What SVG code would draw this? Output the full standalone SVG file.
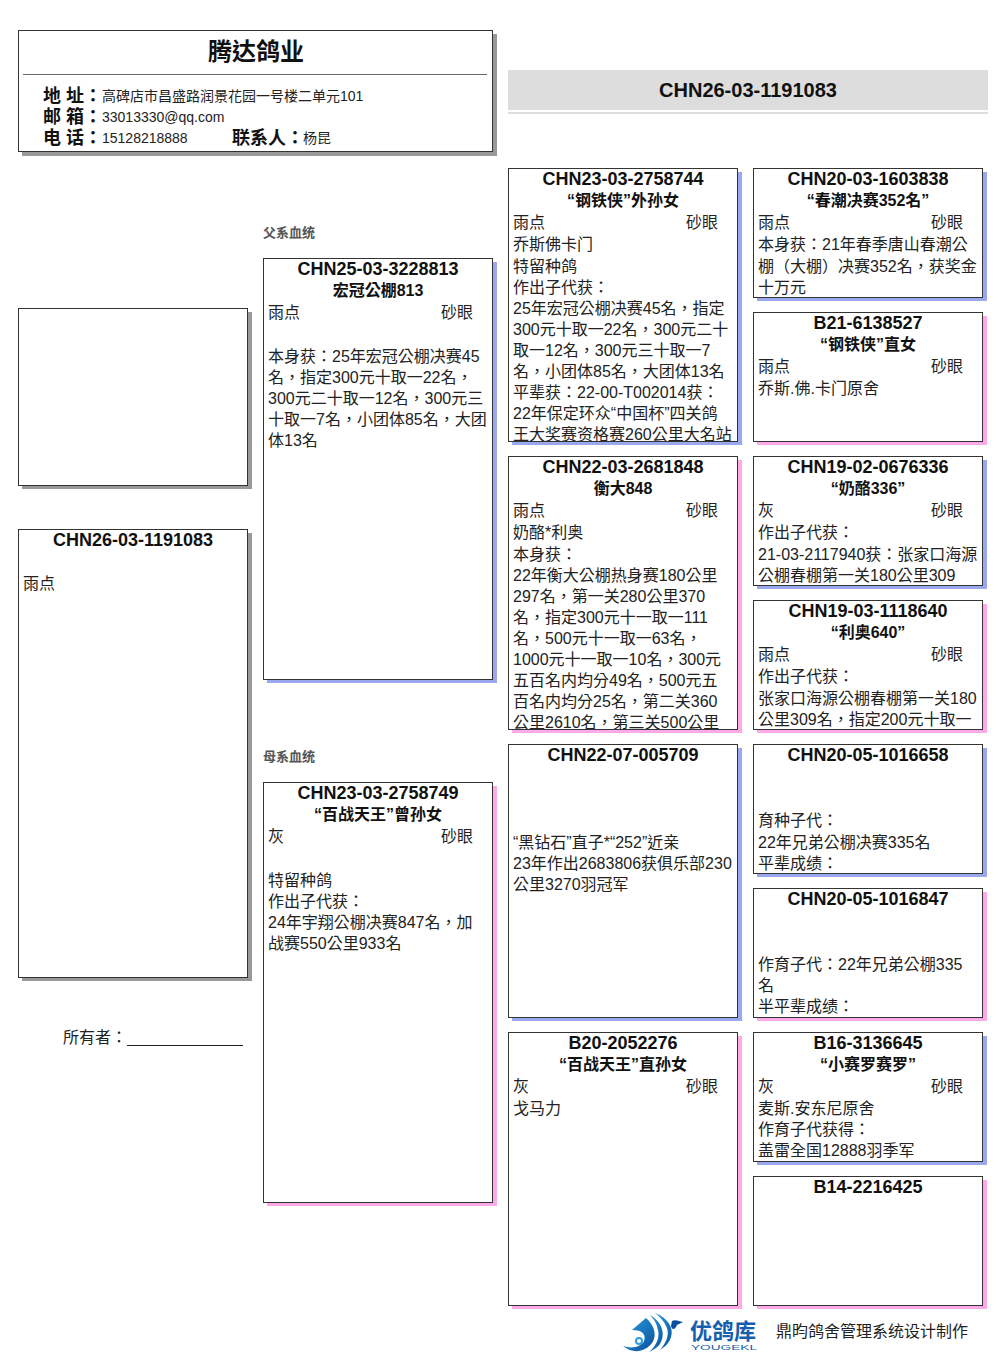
<svg xmlns="http://www.w3.org/2000/svg" width="1006" height="1366" viewBox="0 0 1006 1366">
<style>
text{font-family:"Liberation Sans","Noto Sans CJK TC",sans-serif;fill:#222;font-size:16px}
.box{fill:#fff;stroke:#333;stroke-width:1}
.sg{fill:#999}.sb{fill:#9aa9ee}.sp{fill:#ffaae8}
.t{font-size:18px;font-weight:bold;text-anchor:middle;fill:#111}
.h{font-size:18px;font-weight:bold;fill:#111}
.s{font-size:14px}
.c{font-size:13px;font-weight:bold;fill:#555}
</style>
<defs>
<clipPath id="c1"><rect x="508" y="168" width="230" height="273"/></clipPath>
<clipPath id="c2"><rect x="508" y="456" width="230" height="273"/></clipPath>
<linearGradient id="lg" x1="0" y1="0" x2="1" y2="1"><stop offset="0" stop-color="#2aa0e0"/><stop offset="1" stop-color="#0b4f9e"/></linearGradient>
</defs>
<g id="header">
<rect class="sg" x="22" y="34" width="475" height="122"/>
<rect class="box" x="18.500" y="30.500" width="474" height="121"/>
<line x1="23" y1="74.500" x2="487" y2="74.500" stroke="#666"/>
<text x="256" y="60" style="font-size:24px;font-weight:bold;text-anchor:middle;fill:#111">腾达鸽业</text>
<text class="h" x="43" y="102">地 址：</text><text class="s" x="102" y="101">高碑店市昌盛路润景花园一号楼二单元101</text>
<text class="h" x="43" y="123">邮 箱：</text><text class="s" x="102" y="122">33013330@qq.com</text>
<text class="h" x="43" y="144">电 话：</text><text class="s" x="102" y="143">15128218888</text>
<text class="h" x="232" y="144">联系人：</text><text class="s" x="303" y="143">杨昆</text>
</g>
<g id="ring-title">
<rect x="508" y="70" width="480" height="40" fill="#ddd"/>
<rect x="508" y="112" width="480" height="2" fill="#ddd"/>
<text x="748" y="97" style="font-size:20px;font-weight:bold;text-anchor:middle;fill:#111">CHN26-03-1191083</text>
</g>
<g id="photo">
<rect class="sg" x="22" y="312" width="230" height="177"/>
<rect class="box" x="18.500" y="308.500" width="229" height="177"/>
</g>
<g id="main">
<rect class="sg" x="22" y="533" width="230" height="448"/>
<rect class="box" x="18.500" y="529.500" width="229" height="448"/>
<text class="t" x="133" y="546">CHN26-03-1191083</text>
<text x="23" y="589">雨点</text>
</g>
<g id="owner">
<text x="63" y="1043">所有者：</text>
<line x1="127" y1="1045.500" x2="243" y2="1045.500" stroke="#222"/>
</g>
<g id="labels">
<text class="c" x="263" y="237">父系血统</text>
<text class="c" x="263" y="761">母系血统</text>
</g>
<g id="father">
<rect class="sb" x="267" y="262" width="230" height="421"/>
<rect class="box" x="263.500" y="258.500" width="229" height="421"/>
<text class="t" x="378" y="275">CHN25-03-3228813</text>
<text class="t" x="378" y="296" style="font-size:16px">宏冠公棚813</text>
<text x="268" y="318">雨点</text><text x="441" y="318">砂眼</text>
<text x="268" y="362">本身获：25年宏冠公棚决赛45</text>
<text x="268" y="383">名，指定300元十取一22名，</text>
<text x="268" y="404">300元二十取一12名，300元三</text>
<text x="268" y="425">十取一7名，小团体85名，大团</text>
<text x="268" y="446">体13名</text>
</g>
<g id="mother">
<rect class="sp" x="267" y="786" width="230" height="420"/>
<rect class="box" x="263.500" y="782.500" width="229" height="420"/>
<text class="t" x="378" y="799">CHN23-03-2758749</text>
<text class="t" x="378" y="820" style="font-size:16px">“百战天王”曾孙女</text>
<text x="268" y="842">灰</text><text x="441" y="842">砂眼</text>
<text x="268" y="886">特留种鸽</text>
<text x="268" y="907">作出子代获：</text>
<text x="268" y="928">24年宇翔公棚决赛847名，加</text>
<text x="268" y="949">战赛550公里933名</text>
</g>
<g id="ff">
<rect class="sb" x="512" y="172" width="230" height="273"/>
<rect class="box" x="508.500" y="168.500" width="229" height="273"/>
<text class="t" x="623" y="185">CHN23-03-2758744</text>
<text class="t" x="623" y="206" style="font-size:16px">“钢铁侠”外孙女</text>
<g clip-path="url(#c1)">
<text x="513" y="228">雨点</text><text x="686" y="228">砂眼</text>
<text x="513" y="250">乔斯佛卡门</text>
<text x="513" y="272">特留种鸽</text>
<text x="513" y="293">作出子代获：</text>
<text x="513" y="314">25年宏冠公棚决赛45名，指定</text>
<text x="513" y="335">300元十取一22名，300元二十</text>
<text x="513" y="356">取一12名，300元三十取一7</text>
<text x="513" y="377">名，小团体85名，大团体13名</text>
<text x="513" y="398">平辈获：22-00-T002014获：</text>
<text x="513" y="419">22年保定环众“中国杯”四关鸽</text>
<text x="513" y="440">王大奖赛资格赛260公里大名站</text>
</g>
</g>
<g id="fm">
<rect class="sp" x="512" y="460" width="230" height="273"/>
<rect class="box" x="508.500" y="456.500" width="229" height="273"/>
<text class="t" x="623" y="473">CHN22-03-2681848</text>
<text class="t" x="623" y="494" style="font-size:16px">衡大848</text>
<g clip-path="url(#c2)">
<text x="513" y="516">雨点</text><text x="686" y="516">砂眼</text>
<text x="513" y="538">奶酪*利奥</text>
<text x="513" y="560">本身获：</text>
<text x="513" y="581">22年衡大公棚热身赛180公里</text>
<text x="513" y="602">297名，第一关280公里370</text>
<text x="513" y="623">名，指定300元十一取一111</text>
<text x="513" y="644">名，500元十一取一63名，</text>
<text x="513" y="665">1000元十一取一10名，300元</text>
<text x="513" y="686">五百名内均分49名，500元五</text>
<text x="513" y="707">百名内均分25名，第二关360</text>
<text x="513" y="728">公里2610名，第三关500公里</text>
</g>
</g>
<g id="mf">
<rect class="sb" x="512" y="748" width="230" height="273"/>
<rect class="box" x="508.500" y="744.500" width="229" height="273"/>
<text class="t" x="623" y="761">CHN22-07-005709</text>
<text x="513" y="848">“黑钻石”直子*“252”近亲</text>
<text x="513" y="869">23年作出2683806获俱乐部230</text>
<text x="513" y="890">公里3270羽冠军</text>
</g>
<g id="mm">
<rect class="sp" x="512" y="1036" width="230" height="273"/>
<rect class="box" x="508.500" y="1032.500" width="229" height="273"/>
<text class="t" x="623" y="1049">B20-2052276</text>
<text class="t" x="623" y="1070" style="font-size:16px">“百战天王”直孙女</text>
<text x="513" y="1092">灰</text><text x="686" y="1092">砂眼</text>
<text x="513" y="1114">戈马力</text>
</g>
<g id="fff">
<rect class="sb" x="757" y="172" width="230" height="129"/>
<rect class="box" x="753.500" y="168.500" width="229" height="129"/>
<text class="t" x="868" y="185">CHN20-03-1603838</text>
<text class="t" x="868" y="206" style="font-size:16px">“春潮决赛352名”</text>
<text x="758" y="228">雨点</text><text x="931" y="228">砂眼</text>
<text x="758" y="250">本身获：21年春季唐山春潮公</text>
<text x="758" y="272">棚（大棚）决赛352名，获奖金</text>
<text x="758" y="293">十万元</text>
</g>
<g id="ffm">
<rect class="sp" x="757" y="316" width="230" height="129"/>
<rect class="box" x="753.500" y="312.500" width="229" height="129"/>
<text class="t" x="868" y="329">B21-6138527</text>
<text class="t" x="868" y="350" style="font-size:16px">“钢铁侠”直女</text>
<text x="758" y="372">雨点</text><text x="931" y="372">砂眼</text>
<text x="758" y="394">乔斯.佛.卡门原舍</text>
</g>
<g id="fmf">
<rect class="sb" x="757" y="460" width="230" height="129"/>
<rect class="box" x="753.500" y="456.500" width="229" height="129"/>
<text class="t" x="868" y="473">CHN19-02-0676336</text>
<text class="t" x="868" y="494" style="font-size:16px">“奶酪336”</text>
<text x="758" y="516">灰</text><text x="931" y="516">砂眼</text>
<text x="758" y="538">作出子代获：</text>
<text x="758" y="560">21-03-2117940获：张家口海源</text>
<text x="758" y="581">公棚春棚第一关180公里309</text>
</g>
<g id="fmm">
<rect class="sp" x="757" y="604" width="230" height="129"/>
<rect class="box" x="753.500" y="600.500" width="229" height="129"/>
<text class="t" x="868" y="617">CHN19-03-1118640</text>
<text class="t" x="868" y="638" style="font-size:16px">“利奥640”</text>
<text x="758" y="660">雨点</text><text x="931" y="660">砂眼</text>
<text x="758" y="682">作出子代获：</text>
<text x="758" y="704">张家口海源公棚春棚第一关180</text>
<text x="758" y="725">公里309名，指定200元十取一</text>
</g>
<g id="mff">
<rect class="sb" x="757" y="748" width="230" height="129"/>
<rect class="box" x="753.500" y="744.500" width="229" height="129"/>
<text class="t" x="868" y="761">CHN20-05-1016658</text>
<text x="758" y="826">育种子代：</text>
<text x="758" y="848">22年兄弟公棚决赛335名</text>
<text x="758" y="869">平辈成绩：</text>
</g>
<g id="mfm">
<rect class="sp" x="757" y="892" width="230" height="129"/>
<rect class="box" x="753.500" y="888.500" width="229" height="129"/>
<text class="t" x="868" y="905">CHN20-05-1016847</text>
<text x="758" y="970">作育子代：22年兄弟公棚335</text>
<text x="758" y="991">名</text>
<text x="758" y="1012">半平辈成绩：</text>
</g>
<g id="mmf">
<rect class="sb" x="757" y="1036" width="230" height="129"/>
<rect class="box" x="753.500" y="1032.500" width="229" height="129"/>
<text class="t" x="868" y="1049">B16-3136645</text>
<text class="t" x="868" y="1070" style="font-size:16px">“小赛罗赛罗”</text>
<text x="758" y="1092">灰</text><text x="931" y="1092">砂眼</text>
<text x="758" y="1114">麦斯.安东尼原舍</text>
<text x="758" y="1135">作育子代获得：</text>
<text x="758" y="1156">盖雷全国12888羽季军</text>
</g>
<g id="mmm">
<rect class="sp" x="757" y="1180" width="230" height="129"/>
<rect class="box" x="753.500" y="1176.500" width="229" height="129"/>
<text class="t" x="868" y="1193">B14-2216425</text>
</g>
<g id="logo">
<path d="M632 1330L646 1318C655 1326 657 1336 652 1343C646 1351 634 1355 623 1346C632 1349 641 1347 644 1341C647 1333 640 1330 632 1330Z" fill="url(#lg)"/>
<path d="M650 1315C662 1322 666 1334 660 1344C657 1348 653 1350 649 1352C656 1346 660 1338 658 1330C657 1324 654 1319 650 1315Z" fill="url(#lg)"/>
<path d="M655 1313C668 1318 674 1328 671 1337C669 1343 665 1347 660 1350C667 1342 670 1333 666 1326C664 1321 660 1317 655 1313Z" fill="url(#lg)"/>
<path d="M672 1321C675 1319 679 1321 683 1322L677 1325C675 1330 672 1330 671 1326Z" fill="#0b4f9e"/>
<circle cx="639" cy="1341" r="3" fill="none" stroke="#2aa0e0" stroke-width="2"/>
<text x="690" y="1339" style="font-size:22px;font-weight:bold;fill:#1560ac">优鸽库</text>
<text x="691" y="1350" textLength="66" lengthAdjust="spacingAndGlyphs" style="font-size:8px;fill:#1560ac">YOUGEKL</text>
<text x="776" y="1337">鼎昀鸽舍管理系统设计制作</text>
</g>
<g id="connectors"/>
</svg>
